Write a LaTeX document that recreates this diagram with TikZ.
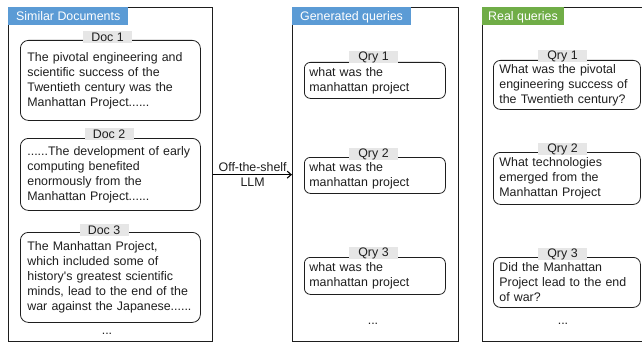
\documentclass[tikz,border=0pt]{standalone}
\usepackage{fontspec}
\setmainfont{Liberation Sans}
\usetikzlibrary{arrows.meta}
\definecolor{hblue}{RGB}{91,155,213}
\definecolor{hgreen}{RGB}{112,173,71}
\definecolor{lgray}{RGB}{230,230,230}
\definecolor{ink}{RGB}{30,30,30}
\tikzset{
  every node/.style={font=\fontsize{12.4}{15}\selectfont, text=ink},
  panel/.style={draw=ink, line width=1.3pt, anchor=north west, inner sep=0pt},
  hdr/.style={anchor=north west, text=white, inner xsep=8pt, inner ysep=0pt, minimum height=18pt, text depth=0pt},
  txtbox/.style={draw=ink, line width=0.8pt, rounded corners=8pt, anchor=north west, align=left, inner ysep=0pt},
  lbl/.style={fill=lgray, inner sep=0pt, minimum width=49pt, minimum height=12pt},
  arr/.style={line width=1.1pt, -{Straight Barb[length=4pt,width=7pt]}},
}
\begin{document}
\begin{tikzpicture}[x=1pt,y=-1pt]
\clip (0,0) rectangle (642,345);
\fill[white] (0,0) rectangle (642,345);
% panels
\node[panel, minimum width=204pt, minimum height=334pt] (p1) at (8,7) {};
\node[panel, minimum width=166pt, minimum height=334pt] (p2) at (292,7) {};
\node[panel, minimum width=175pt, minimum height=334pt] (p3) at (482,7) {};
% headers
\node[hdr, fill=hblue] (h1) at (8,7) {Similar Documents};
\node[hdr, fill=hblue] (h2) at (292,7) {Generated queries};
\node[hdr, fill=hgreen, inner xsep=6pt] (h3) at (482,7) {Real queries};
% documents
\node[txtbox, text width=166pt, inner xsep=7pt, minimum height=80pt] (d1) at (20,40)
  {The pivotal engineering and\\scientific success of the\\Twentieth century was the\\Manhattan Project......};
\node[txtbox, text width=166pt, inner xsep=7pt, minimum height=72pt] (d2) at (20,138)
  {......The development of early\\computing benefited\\enormously from the\\Manhattan Project......};
\node[txtbox, text width=166pt, inner xsep=7pt, minimum height=90pt] (d3) at (20,232)
  {The Manhattan Project,\\which included some of\\history\textquotesingle s greatest scientific\\minds, lead to the end of the\\war against the Japanese......};
\node[lbl] (ld1) at (107.5,37) {Doc 1};
\node[lbl] (ld2) at (109,134) {Doc 2};
\node[lbl] (ld3) at (104,230) {Doc 3};
\node[anchor=base] (e1) at (107,334) {...};
% generated queries
\node[txtbox, rounded corners=6pt, text width=131pt, inner xsep=5pt, minimum height=36pt] (g1) at (304,62)
  {what was the\\manhattan project};
\node[txtbox, rounded corners=6pt, text width=131pt, inner xsep=5pt, minimum height=36pt] (g2) at (304,157)
  {what was the\\manhattan project};
\node[txtbox, rounded corners=6pt, text width=131pt, inner xsep=5pt, minimum height=37pt] (g3) at (304,257)
  {what was the\\manhattan project};
\node[lbl] (lg1) at (373.5,57) {Qry 1};
\node[lbl] (lg2) at (373.5,154) {Qry 2};
\node[lbl] (lg3) at (373.5,253) {Qry 3};
\node[anchor=base] (e2) at (373,324) {...};
% real queries
\node[txtbox, rounded corners=7pt, text width=135pt, inner xsep=6pt, minimum height=49pt] (r1) at (493,60)
  {What was the pivotal\\engineering success of\\the Twentieth century?};
\node[txtbox, rounded corners=7pt, text width=135pt, inner xsep=6pt, minimum height=52pt] (r2) at (493,152)
  {What technologies\\emerged from the\\Manhattan Project};
\node[txtbox, rounded corners=7pt, text width=135pt, inner xsep=6pt, minimum height=50pt] (r3) at (493,257)
  {Did the Manhattan\\Project lead to the end\\of war?};
\node[lbl] (lr1) at (562.5,56) {Qry 1};
\node[lbl] (lr2) at (562.5,149) {Qry 2};
\node[lbl] (lr3) at (562.5,254) {Qry 3};
\node[anchor=base] (e3) at (563,324) {...};
% arrow
\draw[arr] (p1.east) -- (p2.west) node[midway, align=center, inner sep=0pt] (llm) {Off-the-shelf\\LLM};
\end{tikzpicture}
\end{document}
